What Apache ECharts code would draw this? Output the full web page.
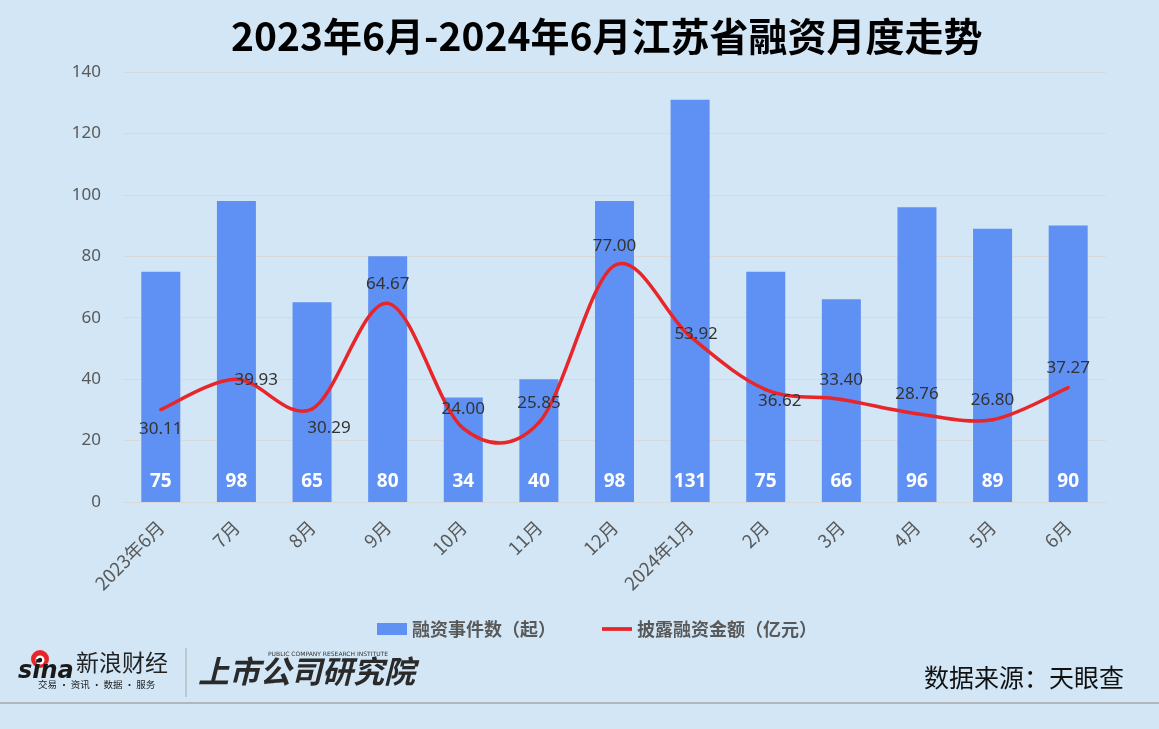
<!DOCTYPE html>
<html><head><meta charset="utf-8">
<script src="https://cdn.jsdelivr.net/npm/echarts@6/dist/echarts.min.js"></script>
<style>html,body{margin:0;padding:0;background:#d2e6f5;}#c{width:1159px;height:729px;}</style>
</head><body><div id="c"></div>
<script>
const categories = ['2023年6月','7月','8月','9月','10月','11月','12月','2024年1月','2月','3月','4月','5月','6月'];
const eventCounts = [75,98,65,80,34,40,98,131,75,66,96,89,90];
const amounts = [30.11,39.93,30.29,64.67,24.00,25.85,77.00,53.92,36.62,33.40,28.76,26.80,37.27];
const labelPos = ['bottom','right','bottom','top','top','top','top','inside','inside','top','top','top','top'];
const yTicks = [0,20,40,60,80,100,120,140];

const labelOffsets = {1:[-13,1],2:[17,0],7:[6,-2],8:[14,12]};
const chart = echarts.init(document.getElementById('c'));
const lineData = amounts.map((v,i)=>{
  const o = {value:v, label:{position:labelPos[i]}};
  if (labelOffsets[i]) o.label.offset = labelOffsets[i];
  return o;
});

// Excel-like Catmull-Rom smoothed curve through the data, via the axis scales
function renderCurve(params, api){
  const pts = amounts.map((v,i)=>api.coord([i,v]));
  const n = pts.length, children = [];
  for (let i=0;i<n-1;i++){
    const p0 = pts[Math.max(i-1,0)], p1 = pts[i], p2 = pts[i+1], p3 = pts[Math.min(i+2,n-1)];
    children.push({type:'bezierCurve',shape:{
      x1:p1[0],y1:p1[1],x2:p2[0],y2:p2[1],
      cpx1:p1[0]+(p2[0]-p0[0])/6, cpy1:p1[1]+(p2[1]-p0[1])/6,
      cpx2:p2[0]-(p3[0]-p1[0])/6, cpy2:p2[1]-(p3[1]-p1[1])/6},
      style:{stroke:'#e8262a',lineWidth:3.5,fill:null,lineCap:'round'}});
  }
  return {type:'group',children};
}

chart.setOption({
  backgroundColor:'#d2e6f5',
  title:{text:'2023年6月-2024年6月江苏省融资月度走势',left:226,top:12,
    textStyle:{fontSize:39,fontWeight:'bold',color:'#000',fontFamily:'Noto Sans CJK SC'}},
  legend:{bottom:86,left:372,itemGap:46,itemWidth:30,itemHeight:12,
    textStyle:{fontSize:18,fontWeight:'bold',color:'#595959',fontFamily:'Noto Sans CJK SC'},
    data:[{name:'融资事件数（起）',icon:'rect'},{name:'披露融资金额（亿元）',icon:'path://M0,0L32,0L32,4L0,4Z'}]},
  grid:{left:123,right:53,top:72,bottom:227},
  xAxis:{type:'category',data:categories,
    axisLine:{lineStyle:{color:'#d9d9d9'}},axisTick:{show:false},
    axisLabel:{rotate:45,fontSize:18.5,color:'#595959',margin:22,interval:0,fontFamily:'Noto Sans CJK SC'}},
  yAxis:{type:'value',min:yTicks[0],max:yTicks[yTicks.length-1],interval:20,
    axisLine:{show:false},axisTick:{show:false},
    axisLabel:{fontSize:17,color:'#595959',margin:22,fontFamily:'Noto Sans'},
    splitLine:{lineStyle:{color:'#d9d9d9'}}},
  series:[
    {name:'融资事件数（起）',type:'bar',data:eventCounts,barWidth:39,
      itemStyle:{color:'#5f91f5'},
      label:{show:true,position:'insideBottom',distance:11,color:'#fff',fontWeight:'bold',fontSize:19,fontFamily:'Noto Sans'}},
    {name:'curve',type:'custom',data:[0],renderItem:renderCurve,z:3,silent:true},
    {name:'披露融资金额（亿元）',type:'line',data:lineData,symbol:'circle',symbolSize:0.1,showSymbol:true,z:4,
      lineStyle:{color:'#e8262a',width:0,opacity:0},itemStyle:{color:'#e8262a'},
      label:{show:true,color:'#333',fontSize:17,distance:11,fontFamily:'Noto Sans',formatter:p=>p.value.toFixed(2)}}
  ],
  graphic:[
    {type:'line',shape:{x1:0,y1:703,x2:1159,y2:703},style:{stroke:'#a6a6a6',lineWidth:1.5}},
    {type:'text',left:924,top:665,style:{text:'数据来源：天眼查',fontSize:25,fill:'#111',fontFamily:'Noto Sans CJK SC'}},
    {type:'circle',shape:{cx:40,cy:659,r:9},style:{fill:'#e8262a'}},
    {type:'circle',shape:{cx:40,cy:660,r:4.5},style:{fill:'#fff'}},
    {type:'circle',shape:{cx:40,cy:660,r:2.2},style:{fill:'#111'}},
    {type:'text',left:18,top:660,style:{text:'sina',fontSize:24,fontWeight:'bold',fontStyle:'italic',fill:'#1a1a1a',fontFamily:'DejaVu Sans'}},
    {type:'text',left:76,top:651,style:{text:'新浪财经',fontSize:23,fill:'#222',fontFamily:'Noto Sans CJK SC'}},
    {type:'text',left:38,top:680,style:{text:'交易 · 资讯 · 数据 · 服务',fontSize:9.5,fill:'#222',fontFamily:'Noto Sans CJK SC'}},
    {type:'line',shape:{x1:186,y1:648,x2:186,y2:697},style:{stroke:'#aaa',lineWidth:1}},
    {type:'text',left:268,top:651,style:{text:'PUBLIC COMPANY RESEARCH INSTITUTE',fontSize:6,fill:'#333',fontFamily:'DejaVu Sans'}},
    {type:'text',left:198,top:656,style:{text:'上市公司研究院',fontSize:31,fontWeight:'bold',fontStyle:'italic',fill:'#2a2a2a',fontFamily:'Noto Sans CJK SC'}}
  ]
});
</script></body></html>
